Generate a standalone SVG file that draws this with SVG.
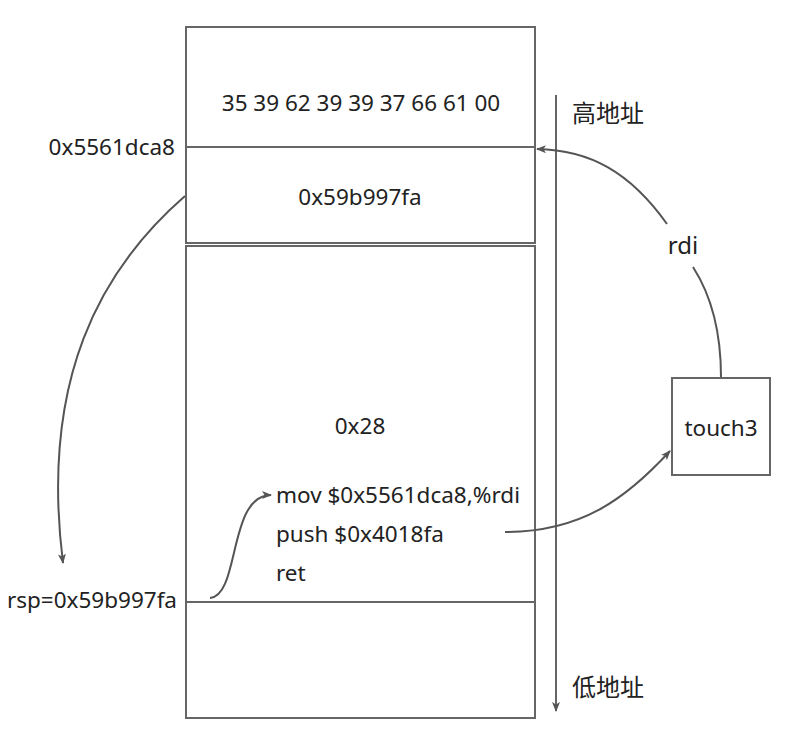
<svg xmlns="http://www.w3.org/2000/svg" width="786" height="731" viewBox="0 0 786 731">
<style>
.box{fill:#fff;stroke:#666;stroke-width:2}
.ln{stroke:#666;stroke-width:2;fill:none}
.c{stroke:#555;stroke-width:2;fill:none}
text{font-family:"Noto Sans","Open Sans","Noto Sans CJK SC",sans-serif;font-size:22.5px;fill:#222;dominant-baseline:central}
.m{text-anchor:middle}
.r{text-anchor:end}
.cjk{font-size:24px}
</style>
<defs>
<marker id="ah" viewBox="0 0 10 10" refX="9" refY="5" markerWidth="10" markerHeight="10" markerUnits="userSpaceOnUse" orient="auto">
<path d="M0,1 L10,5 L0,9 L2.5,5 Z" fill="#555"/>
</marker>
</defs>
<g id="stack">
<rect class="box" x="186" y="27" width="349" height="216"/>
<rect class="box" x="186" y="246" width="349" height="472"/>
<line class="ln" x1="186" y1="147" x2="535" y2="147"/>
<line class="ln" x1="186" y1="602" x2="535" y2="602"/>
<text class="m" x="361" y="102">35 39 62 39 39 37 66 61 00</text>
<text class="m" x="360" y="196">0x59b997fa</text>
<text class="m" x="360" y="425">0x28</text>
<text x="276" y="494">mov $0x5561dca8,%rdi</text>
<text x="276" y="533">push $0x4018fa</text>
<text x="276" y="572">ret</text>
</g>
<g id="labels">
<text class="r" x="175" y="146">0x5561dca8</text>
<text class="r" x="177" y="599">rsp=0x59b997fa</text>
<text class="cjk" x="572" y="112">高地址</text>
<text class="cjk" x="572" y="686">低地址</text>
<text class="m" x="683" y="244" style="font-size:24px">rdi</text>
</g>
<g id="touch3">
<rect class="box" x="672" y="378" width="98" height="97"/>
<text class="m" x="721" y="427">touch3</text>
</g>
<g id="connectors">
<line class="ln" x1="556" y1="95" x2="556" y2="711" marker-end="url(#ah)"/>
<path class="c" d="M185,196 C100,270 40,380 63,563" marker-end="url(#ah)"/>
<path class="c" d="M210,598 C240,596 228,495 271,495" marker-end="url(#ah)"/>
<path class="c" d="M505,532 C580,532 625,500 670,451" marker-end="url(#ah)"/>
<path class="c" d="M721,377 C721,330 711,295 693,267"/>
<path class="c" d="M667,224 C630,172 590,150 537,149" marker-end="url(#ah)"/>
</g>
</svg>
